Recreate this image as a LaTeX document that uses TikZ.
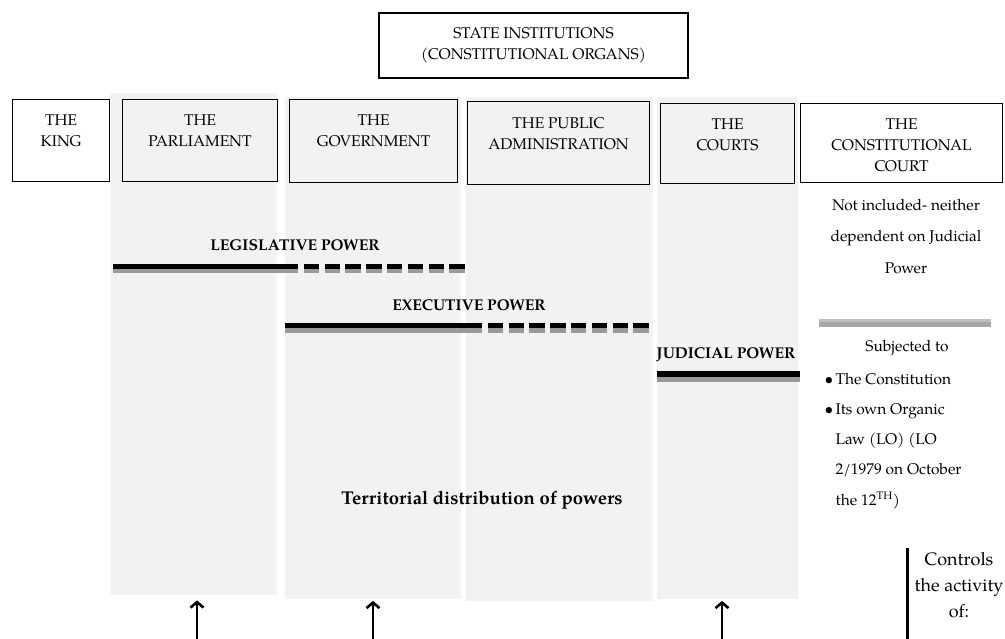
\documentclass[tikz,border=0pt]{standalone}
\usepackage{fontspec}
\setmainfont{texgyrepagella}[Extension=.otf, UprightFont=*-regular, BoldFont=*-bold, ItalicFont=*-italic, BoldItalicFont=*-bolditalic]
\usepackage{tikz}
\usetikzlibrary{shapes,arrows.meta}

\newcommand{\itemdot}{\makebox[11pt][l]{\textbullet}}

\begin{document}
\begin{tikzpicture}[x=1pt, y=-1pt]
    % Block and bar styles
    \tikzstyle{organ} = [draw, line width=1.1pt, anchor=north west, inner sep=0pt, minimum height=82pt]
    \tikzstyle{organtext} = [anchor=north, align=center, font=\fontsize{15.5}{21}\selectfont, yshift=-12.5pt]
    \tikzstyle{column} = [fill=black!5, anchor=north west, inner sep=0pt, minimum height=502pt]
    \tikzstyle{powertext} = [font=\bfseries\fontsize{15.6}{18}\selectfont]
    \tikzstyle{inkbar} = [line width=5.5pt]
    \tikzstyle{shadowbar} = [line width=5pt, draw=black!40]
    \tikzstyle{dashbar} = [dash pattern=on 15.3pt off 5.5pt]
    \tikzstyle{note} = [align=center, font=\fontsize{15.5}{31.5}\selectfont]
    \tikzstyle{line} = [draw, line width=2.6pt, -{Straight Barb[length=5.5pt,width=13pt]}]

    \useasboundingbox (0,0) rectangle (1005,639);

    % Shaded columns
    \node [column, minimum width=166pt] (parlcol) at (111,93) {};
    \node [column, minimum width=176pt] (govcol) at (285,97) {};
    \node [column, minimum width=187pt, minimum height=504pt] (admcol) at (466,97) {};
    \node [column, minimum width=141pt] (courtcol) at (657,97) {};

    % Institutions
    \node [organ, anchor=center, minimum width=309pt, minimum height=65pt, align=center,
        font=\fontsize{15.5}{21}\selectfont] (state) at (533.5,45.5)
        {STATE INSTITUTIONS\\(CONSTITUTIONAL ORGANS)};
    \node [organ, minimum width=97pt, label={[organtext]north:THE\\KING}] (king) at (12,99) {};
    \node [organ, minimum width=155pt, label={[organtext]north:THE\\PARLIAMENT}] (parl) at (122,99) {};
    \node [organ, minimum width=168pt, minimum height=83pt, label={[organtext]north:THE\\GOVERNMENT}] (gov) at (289,99) {};
    \node [organ, minimum width=182pt, minimum height=83pt, label={[organtext]north:THE PUBLIC\\ADMINISTRATION}] (adm) at (467,101) {};
    \node [organ, minimum width=134pt, minimum height=80pt, label={[organtext]north:THE\\COURTS}] (courts) at (660,103) {};
    \node [organ, minimum width=202pt, minimum height=79pt, label={[organtext]north:THE\\CONSTITUTIONAL\\COURT}] (tc) at (800,103) {};

    % Powers
    \node [powertext] (legis) at (295,245) {LEGISLATIVE POWER};
    \draw [shadowbar] (113,270.5) -- (283,270.5);
    \draw [shadowbar, dashbar] (283,270.5) -- (465,270.5);
    \draw [inkbar] (113,266.5) -- (283,266.5);
    \draw [inkbar, dashbar] (283,266.5) -- (465,266.5);

    \node [powertext] (exec) at (469,305) {EXECUTIVE POWER};
    \draw [shadowbar] (285,330.5) -- (467,330.5);
    \draw [shadowbar, dashbar] (467,330.5) -- (653,330.5);
    \draw [inkbar] (285,325.5) -- (467,325.5);
    \draw [inkbar, dashbar] (467,325.5) -- (653,325.5);

    \node [powertext] (judic) at (726,355) {JUDICIAL POWER};
    \draw [shadowbar] (657,379.5) -- (800,379.5);
    \draw [inkbar] (657,374) -- (800,374);

    \node [font=\bfseries\fontsize{18.5}{22}\selectfont] (terr) at (482,500) {Territorial distribution of powers};

    % Constitutional court notes
    \node [note, anchor=base] (notinc) at (906,273.5) {Not included- neither\\dependent on Judicial\\Power};
    \draw [line width=4pt, draw=black!25] (819,321) -- (991,321);
    \draw [line width=5pt, draw=black!35] (819,324.5) -- (991,324.5);
    \node [note, anchor=base] (subj) at (907,352) {Subjected to};
    \node [note, align=left, anchor=base west, font=\fontsize{15.5}{30.3}\selectfont] (sublist) at (821,505.2)
        {\itemdot The Constitution\\
         \itemdot Its own Organic\\
         \hspace*{11pt}Law (LO) (LO\\
         \hspace*{11pt}2/1979 on October\\
         \hspace*{11pt}the 12\textsuperscript{TH})};

    \draw [line width=3pt] (907,548) -- (907,645);
    \node [align=center, anchor=base, font=\fontsize{18}{26}\selectfont] (ctrl) at (959,617) {Controls\\the activity\\of:};

    % Arrows from below
    \coordinate (parlfoot) at (197,645);
    \coordinate (govfoot) at (373,645);
    \coordinate (courtfoot) at (722,645);
    \path [line, shorten >=5pt] (parlfoot) -- (parlfoot |- parlcol.south);
    \path [line, shorten >=1.5pt] (govfoot) -- (govfoot |- govcol.south);
    \path [line, shorten >=1.5pt] (courtfoot) -- (courtfoot |- courtcol.south);
\end{tikzpicture}
\end{document}
